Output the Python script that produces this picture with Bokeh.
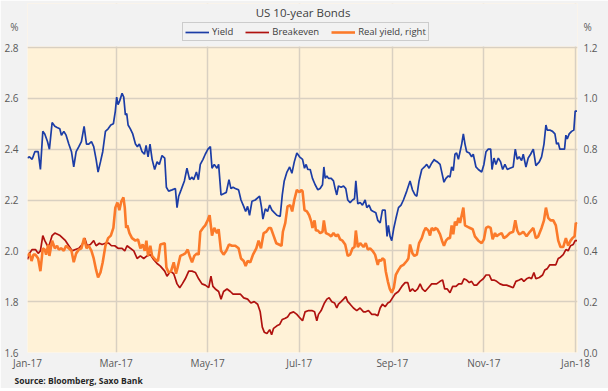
import numpy as np
import pandas as pd
from bokeh.plotting import figure
from bokeh.models import (Range1d, LinearAxis, FixedTicker, DatetimeTickFormatter, BoxAnnotation,
                          NumeralTickFormatter, Legend, LegendItem, Label, Title, ColumnDataSource)
from bokeh.embed import file_html
from bokeh.resources import INLINE

START = "2017-01-01"

# ---- data (days after 1 Jan 2017, values in %) ----
yield_days = [0, 1.3, 3.1, 4.9, 7.1, 8.6, 10.2, 11.5, 13.3, 14.6, 16.4, 18.2, 19.7, 21.5, 22.6, 24.2, 25.7, 27.5,
              29.3, 30.8, 32.4, 34.2, 35.9, 37.7, 39.3, 40.8, 42.6, 44.1, 45.7, 47.0, 48.6, 50.1, 51.9, 53.7, 55.5,
              57.2, 58.5, 59.4, 60.3, 61.4, 63.0, 64.1, 65.2, 66.1, 67.0, 68.5, 70.1, 71.9, 73.2, 74.5, 76.3, 77.9,
              79.0, 80.3, 81.6, 83.0, 84.7, 86.3, 87.8, 89.6, 91.4,
              92.5, 94.0, 96.3, 98.5, 99.6, 100.7, 102.3, 104.5, 106.2, 108.0, 109.6, 110.7, 112.5, 113.8, 115.1,
              116.9, 118.4, 120.2, 121.8, 122.9, 124.4, 126.2, 127.3, 128.9, 130.6, 132.4, 134.2, 135.5, 136.9,
              138.4, 140.6, 142.2, 144.0, 145.3, 146.6, 147.9, 149.5, 151.7, 154.6, 155.9, 156.8, 158.4, 159.9,
              161.3, 162.8, 164.4, 166.1, 168.3, 169.7, 171.0, 172.8, 174.6, 176.1, 177.7, 179.4, 181.2,
              183.2, 184.5, 185.6, 186.7, 188.3, 189.8, 191.6, 193.4, 194.9, 196.5, 197.4, 198.3, 199.4, 200.5,
              202.3, 203.8, 204.9, 206.0, 207.1, 208.9, 210.5, 212.0, 213.3, 214.9, 216.5, 217.8, 218.7, 220.0,
              221.6, 223.1, 224.9, 226.0, 227.5, 228.9, 230.4, 232.0, 233.3, 234.9, 236.4, 238.2, 239.5, 240.4,
              241.5, 242.6, 244.0, 245.3, 247.1, 248.8, 250.4, 252.6, 254.8, 256.4, 258.1, 259.3, 260.8, 262.6,
              264.4, 265.9, 267.5, 269.2, 271.0,
              271.4, 273.0, 274.8, 276.1, 277.4, 278.7, 280.3, 281.4, 282.5, 283.6, 284.7, 285.8, 287.0, 288.1,
              289.2, 290.3, 291.4, 292.5, 294.3, 295.8, 296.9, 298.7, 300.3, 302.5, 304.0, 305.4, 306.9, 308.5,
              309.4, 310.7, 312.0, 313.6, 315.1, 316.5, 318.0, 319.6, 321.3, 323.5, 324.9, 326.2, 327.5, 329.1,
              330.2, 332.0, 333.5, 335.1, 336.9, 338.6, 340.9, 342.4, 344.0, 345.3, 346.2, 347.9, 349.7, 351.3,
              352.4, 353.5, 354.6, 356.4, 357.7, 358.6, 359.5, 360.8, 362.4, 363.9, 364.8, 366.0]
yield_vals = [2.365, 2.37, 2.36, 2.39, 2.39, 2.32, 2.47, 2.46, 2.43, 2.40, 2.505, 2.49, 2.485, 2.48, 2.455, 2.47,
              2.455, 2.42, 2.39, 2.33, 2.39, 2.41, 2.43, 2.49, 2.42, 2.42, 2.43, 2.41, 2.36, 2.31, 2.35, 2.39, 2.47,
              2.48, 2.495, 2.50, 2.55, 2.605, 2.575, 2.59, 2.62, 2.605, 2.535, 2.54, 2.495, 2.48, 2.46, 2.42, 2.41,
              2.42, 2.39, 2.38, 2.415, 2.37, 2.42, 2.36, 2.32, 2.35, 2.34, 2.375, 2.365,
              2.25, 2.235, 2.24, 2.245, 2.17, 2.215, 2.24, 2.275, 2.325, 2.28, 2.29, 2.28, 2.31, 2.28, 2.34, 2.36,
              2.38, 2.40, 2.41, 2.325, 2.34, 2.325, 2.34, 2.22, 2.225, 2.23, 2.28, 2.245, 2.25, 2.245, 2.24, 2.20,
              2.175, 2.155, 2.175, 2.14, 2.195, 2.20, 2.215, 2.17, 2.125, 2.165, 2.155, 2.18, 2.16, 2.15, 2.14,
              2.135, 2.22, 2.275, 2.31, 2.33, 2.305, 2.35, 2.385, 2.37,
              2.36, 2.325, 2.34, 2.32, 2.32, 2.285, 2.26, 2.24, 2.245, 2.26, 2.33, 2.285, 2.295, 2.285, 2.285,
              2.275, 2.245, 2.22, 2.255, 2.25, 2.255, 2.245, 2.20, 2.19, 2.20, 2.205, 2.275, 2.185, 2.19, 2.18,
              2.20, 2.17, 2.18, 2.16, 2.155, 2.15, 2.12, 2.11, 2.16, 2.16, 2.057, 2.10, 2.057, 2.04, 2.09, 2.125,
              2.17, 2.18, 2.20, 2.235, 2.275, 2.24, 2.22, 2.215, 2.275, 2.32, 2.33, 2.34, 2.325, 2.345, 2.36,
              2.355, 2.35, 2.34, 2.305, 2.27, 2.285, 2.295, 2.29, 2.33, 2.315, 2.38, 2.385, 2.36, 2.39, 2.42, 2.46,
              2.42, 2.39, 2.385, 2.37, 2.38, 2.33, 2.32, 2.31, 2.34, 2.39, 2.40, 2.40, 2.32, 2.365, 2.34, 2.365,
              2.35, 2.32, 2.34, 2.32, 2.325, 2.33, 2.40, 2.36, 2.37, 2.355, 2.38, 2.33, 2.365, 2.38, 2.40, 2.335,
              2.35, 2.37, 2.42, 2.495, 2.475, 2.475, 2.47, 2.46, 2.42, 2.425, 2.40, 2.40, 2.40, 2.455, 2.44, 2.46,
              2.47, 2.475, 2.55, 2.55]

breakeven_days = [0, 1.3, 3.1, 5.3, 7.1, 8.6, 10.2, 11.5, 13.3, 14.6, 16.4, 18.2, 20.0, 21.7, 23.5, 25.3, 27.5,
                  29.7, 31.9, 34.2, 36.4, 38.2, 39.7, 41.9, 44.1, 45.7, 47.9, 49.7, 51.9, 54.1, 55.9, 58.1, 60.3,
                  63.0, 64.8, 66.3, 68.5, 70.8, 73.0, 75.2, 77.4, 79.6, 81.8, 84.1, 86.3, 88.5, 91.4,
                  92.9, 95.2, 97.4, 99.6, 101.4, 103.1, 105.1, 107.4, 109.6, 111.8, 114.0, 116.2, 118.4, 120.7,
                  122.2, 123.5, 125.1, 127.3, 128.9, 130.6, 132.9, 135.1, 136.9, 139.5, 141.7, 144.0, 146.6, 148.8,
                  151.0, 153.3, 155.0, 156.4, 157.7, 159.5, 161.3, 162.6, 163.9, 166.1, 167.9, 169.7, 171.7, 173.2,
                  175.0, 177.2, 179.4,
                  181.6, 183.2, 184.9, 187.2, 189.4, 191.2, 192.7, 193.8, 195.6, 197.8, 199.4, 200.9, 202.7, 204.5,
                  206.0, 207.1, 208.9, 210.5, 212.0, 213.3, 214.9, 217.1, 219.3, 221.5, 223.8, 225.3, 227.1, 229.3,
                  231.5, 233.3, 234.9, 236.4, 238.2, 240.0, 241.5, 243.1, 244.8, 247.1, 249.3, 251.5, 253.3, 254.8,
                  256.4, 258.1, 259.9, 261.5, 263.0, 264.8, 267.0, 269.2,
                  270.3, 272.5, 274.8, 276.5, 277.9, 279.6, 281.4, 283.2, 285.4, 287.2, 289.2, 290.7, 292.5, 294.3,
                  295.8, 297.4, 299.2, 301.4, 303.6, 305.4, 307.6, 309.1, 310.7, 312.5, 314.7, 316.9, 319.1, 321.3,
                  323.5, 325.3, 327.5, 329.1, 330.6, 332.4, 334.2, 335.7, 337.3, 338.6, 340.9, 343.1, 344.6, 346.2,
                  347.9, 350.2, 351.9, 353.5, 355.0, 356.8, 358.6, 360.1, 361.7, 363.5, 364.8, 366.0]
breakeven_vals = [1.966, 1.99, 2.005, 2.005, 1.99, 2.0, 2.06, 2.04, 2.02, 2.025, 2.06, 2.07, 2.065, 2.06, 2.05,
                  2.04, 2.02, 2.0, 2.005, 2.01, 2.025, 2.05, 2.02, 2.025, 2.04, 2.02, 2.03, 2.025, 2.03, 2.03, 2.02,
                  2.02, 2.01, 2.01, 2.0, 2.02, 2.01, 2.0, 1.97, 1.98, 1.97, 1.98, 1.985, 1.965, 1.95, 1.94, 1.92,
                  1.90, 1.92, 1.91, 1.87, 1.855, 1.87, 1.89, 1.92, 1.92, 1.915, 1.89, 1.87, 1.865, 1.855, 1.90,
                  1.86, 1.85, 1.84, 1.81, 1.84, 1.85, 1.84, 1.83, 1.83, 1.83, 1.815, 1.81, 1.795, 1.80, 1.79, 1.76,
                  1.70, 1.68, 1.675, 1.69, 1.67, 1.695, 1.705, 1.71, 1.73, 1.735, 1.74, 1.755, 1.76, 1.75,
                  1.735, 1.725, 1.76, 1.765, 1.765, 1.76, 1.725, 1.75, 1.765, 1.795, 1.81, 1.815, 1.80, 1.795,
                  1.775, 1.79, 1.80, 1.81, 1.82, 1.80, 1.79, 1.775, 1.765, 1.775, 1.76, 1.76, 1.765, 1.75, 1.75,
                  1.745, 1.775, 1.79, 1.78, 1.795, 1.80, 1.815, 1.83, 1.84, 1.86, 1.875, 1.875, 1.84, 1.85, 1.84,
                  1.85, 1.87, 1.85, 1.84, 1.855, 1.87,
                  1.87, 1.87, 1.88, 1.885, 1.85, 1.85, 1.835, 1.86, 1.86, 1.87, 1.87, 1.89, 1.885, 1.875, 1.88,
                  1.865, 1.865, 1.88, 1.89, 1.905, 1.905, 1.885, 1.885, 1.88, 1.87, 1.865, 1.865, 1.86, 1.855, 1.88,
                  1.885, 1.89, 1.88, 1.89, 1.895, 1.89, 1.915, 1.89, 1.895, 1.905, 1.925, 1.93, 1.945, 1.945, 1.945,
                  1.97, 1.975, 1.985, 2.005, 2.0, 2.02, 2.025, 2.04, 2.04]

real_days = [0, 1.3, 2.7, 4.0, 5.3, 7.1, 8.6, 10.2, 11.5, 12.4, 13.8, 14.6, 16.4, 18.2, 19.7, 20.8, 22.6, 24.2,
             25.7, 27.5, 29.3, 30.8, 32.4, 34.2, 35.9, 37.7, 39.3, 40.8, 42.6, 44.1, 45.7, 47.0, 48.6, 50.1, 51.9,
             53.7, 55.5, 57.2, 58.5, 59.9, 61.2, 62.5, 63.9, 64.8, 65.7, 66.5, 67.9, 69.6, 71.9, 73.6, 75.2, 76.7,
             78.1, 79.2, 80.3, 81.8, 83.0, 85.2, 86.9, 88.5, 91.4,
             92.5, 94.0, 95.6, 97.4, 98.9, 100.0, 101.8, 103.6, 105.1, 106.7, 108.0, 109.6, 111.1, 112.9, 114.0,
             115.1, 116.9, 118.4, 120.0, 121.3, 122.9, 124.4, 126.2, 127.3, 128.9, 130.6, 132.4, 134.2, 136.2,
             138.4, 140.6, 142.2, 144.0, 145.3, 146.6, 148.4, 150.2, 152.4, 153.9, 155.5, 157.3, 159.0, 160.8,
             162.1, 163.9, 165.7, 167.5, 169.2, 170.1, 171.7, 173.2, 175.0, 176.3, 177.7, 179.4, 181.2,
             182.3, 183.2, 184.5, 186.1, 187.6, 189.0, 189.8, 191.2, 192.1, 193.4, 194.9, 196.5, 197.4, 198.7,
             200.5, 202.3, 203.8, 205.4, 206.7, 208.2, 209.8, 211.6, 213.3, 214.9, 216.5, 217.8, 218.7, 220.0,
             221.6, 223.8, 225.3, 226.7, 228.2, 229.8, 231.5, 233.3, 234.2, 235.5, 236.4, 237.7, 238.6, 240.0,
             241.3, 242.6, 244.0, 245.3, 247.1, 248.8, 250.4, 252.6, 253.7, 254.8, 256.4, 257.7, 259.3, 260.8,
             262.6, 263.9, 265.2, 267.0, 268.1, 269.2, 271.0,
             271.4, 273.0, 274.8, 276.1, 277.4, 278.7, 280.3, 281.4, 282.5, 283.6, 284.7, 285.8, 287.0, 288.1,
             289.2, 290.3, 291.4, 292.9, 294.7, 296.5, 298.0, 300.3, 302.5, 304.0, 305.4, 306.9, 308.5, 309.8,
             311.4, 312.5, 314.2, 315.8, 317.3, 319.1, 321.3, 323.5, 324.9, 326.2, 327.5, 329.1, 330.2, 332.4,
             334.6, 336.9, 338.6, 340.2, 342.4, 344.0, 345.3, 346.8, 348.4, 350.2, 351.9, 353.5, 355.0, 356.8,
             358.6, 360.1, 361.7, 363.0, 364.4, 365.2, 366.0]
real_vals = [0.38, 0.39, 0.36, 0.385, 0.385, 0.37, 0.32, 0.41, 0.405, 0.385, 0.425, 0.38, 0.44, 0.41, 0.42, 0.405,
             0.41, 0.40, 0.42, 0.41, 0.40, 0.355, 0.39, 0.405, 0.41, 0.45, 0.41, 0.42, 0.40, 0.37, 0.325, 0.295,
             0.315, 0.355, 0.42, 0.45, 0.46, 0.49, 0.57, 0.59, 0.56, 0.595, 0.61, 0.57, 0.49, 0.50, 0.47, 0.45,
             0.44, 0.445, 0.41, 0.425, 0.40, 0.44, 0.38, 0.42, 0.38, 0.365, 0.36, 0.425, 0.43,
             0.335, 0.315, 0.32, 0.355, 0.31, 0.335, 0.38, 0.385, 0.39, 0.405, 0.38, 0.355, 0.38, 0.39, 0.385,
             0.475, 0.49, 0.50, 0.52, 0.54, 0.46, 0.49, 0.47, 0.485, 0.40, 0.385, 0.40, 0.425, 0.42, 0.42, 0.41,
             0.37, 0.36, 0.34, 0.36, 0.355, 0.385, 0.41, 0.44, 0.41, 0.47, 0.475, 0.49, 0.49, 0.46, 0.43, 0.425,
             0.42, 0.475, 0.51, 0.575, 0.58, 0.555, 0.60, 0.64, 0.63,
             0.64, 0.635, 0.56, 0.555, 0.54, 0.515, 0.49, 0.52, 0.48, 0.48, 0.47, 0.475, 0.52, 0.47, 0.465, 0.457,
             0.47, 0.457, 0.465, 0.445, 0.44, 0.425, 0.38, 0.385, 0.41, 0.415, 0.48, 0.415, 0.43, 0.415, 0.43,
             0.405, 0.41, 0.40, 0.385, 0.345, 0.365, 0.36, 0.37, 0.365, 0.32, 0.28, 0.25, 0.235, 0.255, 0.305,
             0.325, 0.34, 0.345, 0.36, 0.37, 0.425, 0.39, 0.38, 0.385, 0.43, 0.45, 0.475, 0.49, 0.48, 0.46, 0.49,
             0.48,
             0.49, 0.485, 0.465, 0.44, 0.42, 0.44, 0.45, 0.45, 0.50, 0.465, 0.515, 0.50, 0.53, 0.51, 0.54, 0.57,
             0.50, 0.495, 0.49, 0.485, 0.457, 0.44, 0.43, 0.445, 0.49, 0.495, 0.49, 0.445, 0.47, 0.457, 0.465,
             0.47, 0.45, 0.457, 0.47, 0.475, 0.52, 0.48, 0.465, 0.47, 0.475, 0.457, 0.475, 0.49, 0.45, 0.457,
             0.49, 0.52, 0.57, 0.53, 0.52, 0.52, 0.50, 0.44, 0.415, 0.415, 0.45, 0.42, 0.44, 0.45, 0.457, 0.51,
             0.505]

x_tick_dates = ["2017-01-01", "2017-03-01", "2017-05-01", "2017-07-01", "2017-09-01", "2017-11-01", "2018-01-01"]
left_ticks = [1.6, 1.8, 2.0, 2.2, 2.4, 2.6, 2.8]
right_ticks = [0.0, 0.2, 0.4, 0.6, 0.8, 1.0, 1.2]
unit_label = "%"

title_text = "US 10-year  Bonds"
source_text = "Source: Bloomberg, Saxo Bank"
series_names = ["Yield", "Breakeven", "Real yield, right"]


def to_dates(days):
    return pd.Timestamp(START) + pd.to_timedelta(np.array(days, dtype=float), unit="D")


def ms(s):
    return pd.Timestamp(s).timestamp() * 1000.0


FONT = "Open Sans"
BG = "#f2f2f2"
PLOT_BG = "#fff2d7"
GRID = "#d9d0c1"
TXT = "#595959"

B_LEFT, B_RIGHT, B_TOP, B_BOTTOM = 27, 31, 3, 36
FRAME_W, FRAME_H = 550, 349
DATA_H = 305.0                       # pixel height of the 1.6..2.8 band
EXTRA = (FRAME_H - DATA_H) / DATA_H  # header band above the data, as a fraction
span_l = left_ticks[-1] - left_ticks[0]
span_r = right_ticks[-1] - right_ticks[0]
top_l = left_ticks[-1] + span_l * EXTRA
top_r = right_ticks[-1] + span_r * EXTRA
unit_tick_l = round(left_ticks[-1] + span_l * 20 / DATA_H, 4)   # "%" ~20px above top
unit_tick_r = round(right_ticks[-1] + span_r * 20 / DATA_H, 4)

p = figure(frame_width=FRAME_W, frame_height=FRAME_H, x_axis_type="datetime", output_backend="svg",
           toolbar_location=None,
           x_range=Range1d(ms("2017-01-01"), ms("2018-01-02 08:00")),
           y_range=Range1d(left_ticks[0], top_l),
           min_border_left=B_LEFT, min_border_right=B_RIGHT, min_border_top=B_TOP, min_border_bottom=B_BOTTOM)
p.background_fill_color = PLOT_BG
p.border_fill_color = BG
p.outline_line_color = None
p.extra_y_ranges = {"right": Range1d(right_ticks[0], top_r)}

# header band (grey) above the plotting area
p.add_layout(BoxAnnotation(bottom=left_ticks[-1] + span_l * 1.0 / DATA_H, fill_color=BG, fill_alpha=1.0,
                           line_alpha=0.0, level="underlay"))

src_y = ColumnDataSource(dict(x=to_dates(yield_days), y=yield_vals))
src_b = ColumnDataSource(dict(x=to_dates(breakeven_days), y=breakeven_vals))
src_r = ColumnDataSource(dict(x=to_dates(real_days), y=real_vals))

r_y = p.line("x", "y", source=src_y, line_color="#1c3da6", line_width=1.7)
r_b = p.line("x", "y", source=src_b, line_color="#b0120f", line_width=1.7)
r_r = p.line("x", "y", source=src_r, line_color="#fb7a2a", line_width=2.6, y_range_name="right")

# axes
xaxis = p.xaxis[0]
xaxis.ticker = FixedTicker(ticks=[ms(d) for d in x_tick_dates])
fmt = "%b-%y"
xaxis.formatter = DatetimeTickFormatter(days=fmt, months=fmt, years=fmt, hours=fmt, minutes=fmt)
yaxis = p.yaxis[0]
yaxis.ticker = FixedTicker(ticks=left_ticks + [unit_tick_l])
yaxis.formatter = NumeralTickFormatter(format="0.0")
yaxis.major_label_overrides = {unit_tick_l: unit_label}
raxis = LinearAxis(y_range_name="right", ticker=FixedTicker(ticks=right_ticks + [unit_tick_r]),
                   formatter=NumeralTickFormatter(format="0.0"))
raxis.major_label_overrides = {unit_tick_r: unit_label}
p.add_layout(raxis, "right")

for ax in (xaxis, yaxis, raxis):
    ax.axis_line_color = None
    ax.major_tick_line_color = None
    ax.minor_tick_line_color = None
    ax.major_tick_out = 0
    ax.major_tick_in = 0
    ax.minor_tick_out = 0
    ax.minor_tick_in = 0
    ax.major_label_text_font = FONT
    ax.major_label_text_font_size = "10px"
    ax.major_label_text_color = TXT
xaxis.major_label_standoff = 3
yaxis.major_label_standoff = 9
raxis.major_label_standoff = 6

p.xgrid.grid_line_color = GRID
p.xgrid.grid_line_width = 1.5
p.ygrid.ticker = FixedTicker(ticks=left_ticks)
p.ygrid.grid_line_color = GRID
p.ygrid.grid_line_width = 1.5

# title inside the header band (screen units from frame bottom-left)
p.add_layout(Label(x=277, y=DATA_H + 35, x_units="screen", y_units="screen", text=title_text,
                   text_align="center", text_baseline="middle", text_font=FONT, text_font_size="11.5px",
                   text_color="#404040"))

legend = Legend(items=[LegendItem(label=series_names[0], renderers=[r_y]),
                       LegendItem(label=series_names[1], renderers=[r_b]),
                       LegendItem(label=series_names[2], renderers=[r_r])],
                location=(155, DATA_H + 6), orientation="horizontal",
                border_line_color="#a6a6a6", border_line_width=1,
                background_fill_color=BG, background_fill_alpha=1.0,
                label_text_font=FONT, label_text_font_size="9.5px", label_text_color="#404040",
                glyph_width=24, glyph_height=10, label_height=10, label_standoff=3,
                spacing=12, padding=2, margin=0)
p.add_layout(legend, "center")

src_title = Title(text=source_text, align="left", offset=-13, standoff=0, text_font=FONT,
                  text_font_size="8.5px", text_font_style="bold", text_color="#262626")
p.add_layout(src_title, "below")

html = file_html(p, INLINE)
open("out.html", "w").write(html)
